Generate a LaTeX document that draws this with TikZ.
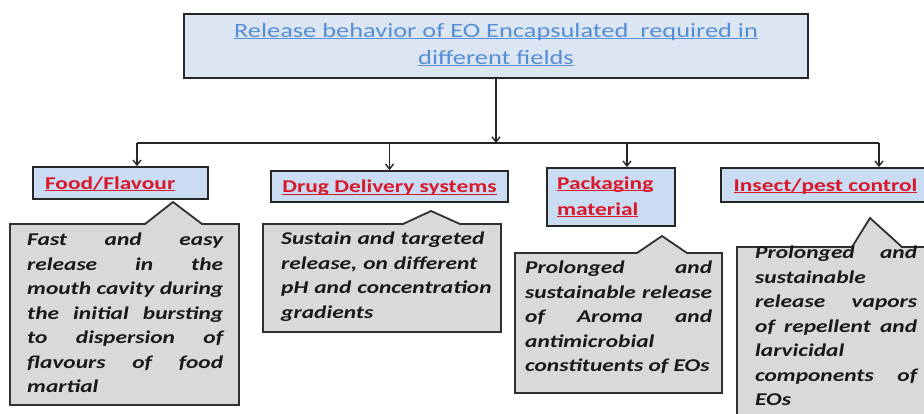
\documentclass[tikz,border=0pt]{standalone}
\usepackage{fontspec}
\setmainfont{Carlito}[FakeStretch=1.3]
\usetikzlibrary{arrows.meta}

\definecolor{titleblue}{HTML}{558ED5}
\definecolor{titlefill}{HTML}{DCE6F2}
\definecolor{headfill}{HTML}{C9DCF2}
\definecolor{headred}{HTML}{D9182B}
\definecolor{notefill}{HTML}{D9D9D9}
\definecolor{noteline}{HTML}{303030}

% underline that runs through the descenders
\newcommand{\undl}[1]{\underline{\smash{#1}}}
\newcommand{\titlefont}{\fontsize{20.3}{27}\selectfont}
\newcommand{\headfont}{\fontsize{18}{26}\selectfont\bfseries}
\newcommand{\notefont}{\fontsize{18}{24.5}\selectfont\bfseries\itshape}

\begin{document}
\begin{tikzpicture}[x=1pt, y=-1pt,
    link/.style={line width=1.4pt, draw=black!85},
    tip/.style={-{Straight Barb[length=5pt, width=8pt]}},
    titlebox/.style={draw=black!85, line width=2.4pt, fill=titlefill, text=titleblue, align=center, font=\titlefont},
    headbox/.style={draw=black!85, line width=1.8pt, fill=headfill, text=headred, inner ysep=0pt, font=\headfont, text height=13pt, text depth=1pt},
    notebox/.style={fill=notefill, draw=noteline, line width=1.8pt},
    notetext/.style={anchor=north west, inner sep=0pt, text=black!90, font=\notefont, align=justify}]

    \useasboundingbox (0,0) rectangle (924,413);
    \clip (0,0) rectangle (924,413);

    % top box
    \node[titlebox, minimum width=624, minimum height=64, inner ysep=0pt, text height=40pt, text depth=4pt] (title) at (496,46)
        {\undl{Release behavior of EO Encapsulated\ \ required in}\\\undl{different fields}};

    % field boxes
    \node[headbox, minimum width=175, minimum height=32, text width=151, inner xsep=12pt, align=left] (food) at (120.5,183) {\undl{Food/Flavour}};
    \node[headbox, minimum width=237, minimum height=31] (drug) at (389.5,186.5) {\undl{Drug Delivery systems}};
    \node[headbox, minimum width=128, minimum height=58, text width=108, inner xsep=10pt, align=left, text height=13pt, text depth=29pt] (pack) at (611,197) {\undl{Packaging}\\\undl{material}};
    \node[headbox, minimum width=209, minimum height=34] (insect) at (825.5,185) {\undl{Insect/pest control}};

    % horizontal line and the drops
    \coordinate (d1) at (137,143);
    \coordinate (d2) at (389.5,143);
    \coordinate (d3) at (627,143);
    \coordinate (d4) at (879,143);

    \draw[link, tip] (title.south) -- (title.south |- d1);
    \draw[link] (d1) -- (d4);
    \draw[link, tip] (d1) -- (d1 |- food.north);
    \draw[link, tip] (d2) -- (drug.north);
    \draw[link, tip] (d3) -- (d3 |- pack.north);
    \draw[link, tip] (d4) -- (d4 |- insect.north);

    % callouts under the boxes
    \filldraw[notebox] (10,224) -- (145,224) -- (173,202) -- (202,224) -- (239,224) -- (239,405) -- (10,405) -- cycle;
    \filldraw[notebox] (263,224) -- (403,224) -- (431,211) -- (460,224) -- (501,224) -- (501,332) -- (263,332) -- cycle;
    \filldraw[notebox] (515,253) -- (637,253) -- (662,236) -- (687,253) -- (722,253) -- (722,393) -- (515,393) -- cycle;
    \filldraw[notebox] (737,247) -- (852,247) -- (870,218) -- (902,247) -- (934,247) -- (934,424) -- (737,424) -- cycle;

    \node[notetext, text width=196] (foodnote) at (27,233)
        {Fast and easy\linebreak release in the\linebreak mouth cavity during\linebreak the initial bursting\linebreak to dispersion of\linebreak flavours of food\linebreak martial};
    \node[notetext, text width=220, align=left] (drugnote) at (281,232)
        {Sustain and targeted\\release, on different\\pH and concentration\\gradients};
    \node[notetext, text width=187] (packnote) at (525,261)
        {Prolonged and\linebreak sustainable release\linebreak of Aroma and\linebreak antimicrobial\linebreak constituents of EOs};
    \node[notetext, text width=162] (insectnote) at (755,246)
        {Prolonged and\linebreak sustainable\linebreak release vapors\linebreak of repellent and\linebreak larvicidal\linebreak components of\linebreak EOs};
\end{tikzpicture}
\end{document}
